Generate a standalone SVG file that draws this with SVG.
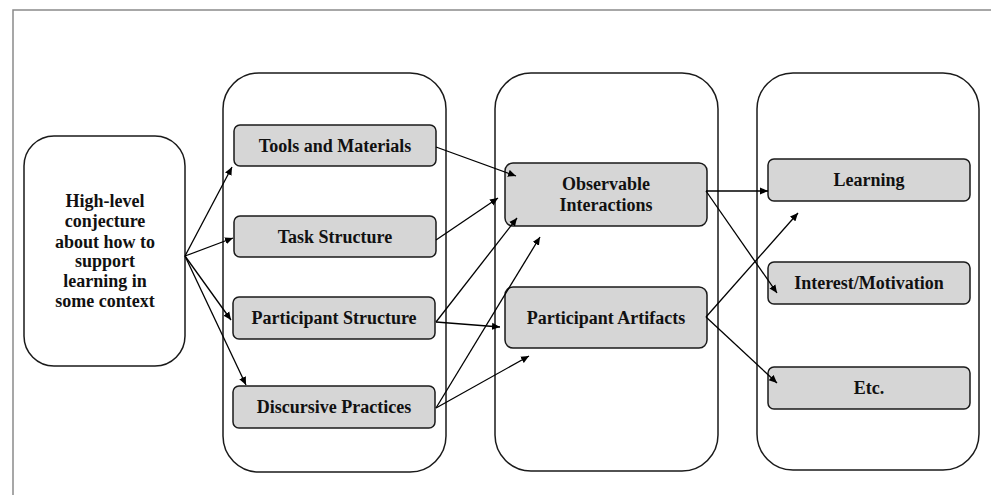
<svg xmlns="http://www.w3.org/2000/svg" width="991" height="495" viewBox="0 0 991 495">
<style>
.frame{fill:none;stroke:#8a8a8a;stroke-width:1.5}
.cont{fill:#fff;stroke:#1a1a1a;stroke-width:1.5}
.box{fill:#d6d6d6;stroke:#1a1a1a;stroke-width:1.5}
.t{font-family:"Liberation Serif","Times New Roman",serif;font-weight:bold;font-size:18px;fill:#111;text-anchor:middle}
.c line{stroke:#000;stroke-width:1.3;marker-end:url(#ah)}
</style>
<defs>
<marker id="ah" viewBox="0 0 10 10" refX="10" refY="5" markerWidth="8" markerHeight="8" markerUnits="userSpaceOnUse" orient="auto">
<path d="M0,0.5 L10,5 L0,9.5 z" fill="#000"/>
</marker>
</defs>
<rect width="991" height="495" fill="#fff"/>
<path class="frame" d="M13,495 L13,10 L991,10"/>

<g id="conjecture">
<rect class="cont" x="24" y="136" width="161" height="230" rx="30"/>
<text class="t" x="105" y="207">High-level</text>
<text class="t" x="105" y="227">conjecture</text>
<text class="t" x="105" y="248">about how to</text>
<text class="t" x="105" y="267">support</text>
<text class="t" x="105" y="287">learning in</text>
<text class="t" x="105" y="307">some context</text>
</g>

<g id="col1">
<rect class="cont" x="223" y="73" width="223" height="399" rx="36"/>
</g>
<g id="col2">
<rect class="cont" x="495" y="73" width="223" height="398" rx="36"/>
</g>
<g id="col3">
<rect class="cont" x="757" y="73" width="222" height="397" rx="36"/>
</g>

<g id="tools"><rect class="box" x="234" y="125" width="202" height="41" rx="6"/><text class="t" x="335" y="152">Tools and Materials</text></g>
<g id="task"><rect class="box" x="234" y="216" width="202" height="41" rx="6"/><text class="t" x="335" y="243">Task Structure</text></g>
<g id="pstruct"><rect class="box" x="233" y="297" width="202" height="42" rx="6"/><text class="t" x="334" y="324">Participant Structure</text></g>
<g id="discursive"><rect class="box" x="233" y="386" width="202" height="42" rx="6"/><text class="t" x="334" y="413">Discursive Practices</text></g>

<g id="observable"><rect class="box" x="505" y="163" width="202" height="63" rx="8"/><text class="t" x="606" y="190">Observable</text><text class="t" x="606" y="211">Interactions</text></g>
<g id="artifacts"><rect class="box" x="505" y="287" width="202" height="61" rx="8"/><text class="t" x="606" y="324">Participant Artifacts</text></g>

<g id="learning"><rect class="box" x="768" y="159" width="202" height="42" rx="6"/><text class="t" x="869" y="186">Learning</text></g>
<g id="interest"><rect class="box" x="768" y="262" width="202" height="42" rx="6"/><text class="t" x="869" y="289">Interest/Motivation</text></g>
<g id="etc"><rect class="box" x="768" y="367" width="202" height="42" rx="6"/><text class="t" x="869" y="394">Etc.</text></g>

<g id="connectors" class="c">
<line x1="185" y1="256" x2="232" y2="167"/>
<line x1="185" y1="256" x2="233" y2="238"/>
<line x1="185" y1="256" x2="231" y2="320"/>
<line x1="185" y1="256" x2="246" y2="385"/>
<line x1="436" y1="147" x2="516" y2="176"/>
<line x1="436" y1="240" x2="498" y2="198"/>
<line x1="436" y1="322" x2="517" y2="218"/>
<line x1="436" y1="322" x2="500" y2="327"/>
<line x1="436" y1="408" x2="540" y2="237"/>
<line x1="436" y1="408" x2="529" y2="356"/>
<line x1="706" y1="191" x2="768" y2="191"/>
<line x1="706" y1="191" x2="777" y2="293"/>
<line x1="706" y1="317" x2="798" y2="213"/>
<line x1="706" y1="317" x2="777" y2="383"/>
</g>
</svg>
